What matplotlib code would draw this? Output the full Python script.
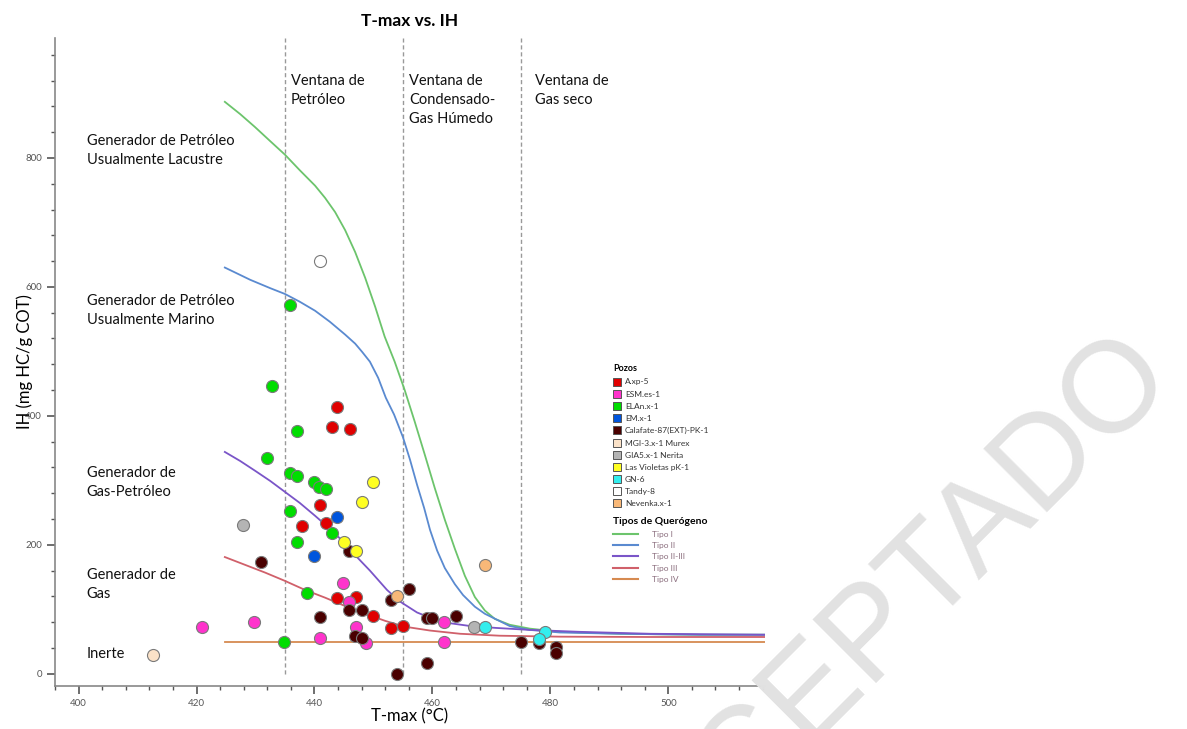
import matplotlib
matplotlib.use('Agg')
import matplotlib.pyplot as plt
from matplotlib.lines import Line2D
from matplotlib.ticker import MultipleLocator

plt.rcParams['font.family'] = ['Lato', 'DejaVu Sans']

# --- Pozos : Tmax (°C) et IH (mg HC/g COT) ---
axp5_t = [443.9, 442.9, 446.0, 440.9, 437.9, 442.0, 443.9, 447.0, 450.0, 453.0, 455.0]
axp5_ih = [413, 383, 380, 261, 229, 234, 118, 119, 90, 71, 74]

esm_t = [444.9, 445.9, 429.8, 447.0, 462.0, 440.9, 448.8, 462.0, 420.9]
esm_ih = [140, 111, 80, 72, 80, 55, 47, 50, 72]

elan_t = [432.8, 437.0, 431.9, 435.8, 437.0, 440.0, 440.8, 442.0, 435.8, 442.9, 437.0, 438.8, 434.9, 435.8]
elan_ih = [446, 376, 335, 311, 307, 297, 289, 287, 253, 218, 205, 125, 50, 572]

em_t = [443.9, 440.0]
em_ih = [243, 183]

calafate_t = [430.9, 445.9, 456.0, 453.0, 448.0, 445.9, 440.9, 459.0, 460.0, 464.0,
              446.9, 448.0, 459.0, 454.0, 475.0, 478.0, 481.0, 481.0]
calafate_ih = [173, 191, 131, 115, 99, 99, 88, 86, 87, 90,
               58, 55, 17, 0, 49, 47, 41, 32]

mgi_t = [412.7]
mgi_ih = [29]

gias_t = [427.8, 467.0]
gias_ih = [231, 73]

violetas_t = [450.0, 448.0, 445.0, 447.0]
violetas_ih = [297, 267, 205, 191]

gn6_t = [469.0, 479.1, 478.0]
gn6_ih = [72, 64, 54]

tandy_t = [440.9]
tandy_ih = [640]

nevenka_t = [454.0, 469.0]
nevenka_ih = [120, 168]

# --- Courbes des types de kérogène ---
tipo1_t = [424.8, 427.4, 429.9, 432.5, 435.0, 437.5, 440.1, 441.8, 443.5, 445.2, 446.9,
           448.6, 450.3, 451.9, 453.6, 455.3, 457.0, 458.7, 460.4, 462.1, 463.8, 465.5,
           467.2, 468.9, 470.6, 473.1, 476.5, 481.6, 491.8, 505.3, 516.4]
tipo1_ih = [887, 868, 848, 826, 805, 781, 757, 738, 716, 688, 654,
            614, 569, 523, 484, 440, 391, 340, 288, 239, 194, 152,
            119, 98, 85, 76, 70, 65, 62, 60.5, 60.5]

tipo2_t = [424.8, 429.1, 432.5, 435.0, 437.5, 440.1, 442.6, 445.2, 446.9, 448.1, 449.4,
           450.8, 452.1, 453.5, 455.0, 456.2, 457.4, 458.6, 459.6, 460.8, 462.1, 463.8,
           465.2, 467.2, 468.9, 470.9, 473.1, 476.5, 481.6, 491.8, 505.3, 516.4]
tipo2_ih = [630, 611, 598, 589, 577, 563, 546, 526, 512, 499, 484,
            459, 428, 402, 367, 332, 293, 257, 223, 191, 164, 139,
            122, 104, 93, 84, 74, 68, 64, 62, 60.5, 60.5]

tipo23_t = [424.8, 427.4, 429.9, 432.5, 435.0, 437.5, 440.1, 442.6, 445.2, 447.2, 449.4,
            452.3, 454.5, 457.4, 459.6, 462.5, 466.4, 470.9, 476.5, 485.0, 496.9, 516.4]
tipo23_ih = [344, 330, 315, 299, 282, 265, 245, 225, 202, 181, 160,
             130, 112, 95, 87, 79, 74, 71, 68, 65, 62, 60.5]

tipo3_t = [424.8, 428.2, 431.6, 435.0, 438.4, 441.8, 445.2, 448.6, 452.0, 455.3,
           459.6, 464.7, 471.4, 481.6, 496.9, 516.4]
tipo3_ih = [181, 169, 157, 144, 130, 118, 105, 93, 82, 73,
            67, 62, 59, 57.5, 57, 57]

tipo4_t = [424.8, 516.4]
tipo4_ih = [49, 49]

ventanas = [435, 455, 475]

pozos = [
    ("A.xp-5", axp5_t, axp5_ih, '#e00000'),
    ("ESM.es-1", esm_t, esm_ih, '#ff33cc'),
    ("ELAn.x-1", elan_t, elan_ih, '#00dd00'),
    ("EM.x-1", em_t, em_ih, '#0055dd'),
    ("Calafate-87(EXT)-PK-1", calafate_t, calafate_ih, '#4a0000'),
    ("MGI-3.x-1 Murex", mgi_t, mgi_ih, '#fbe2c8'),
    ("GIA5.x-1 Nerita", gias_t, gias_ih, '#b4b4b4'),
    ("Las Violetas pK-1", violetas_t, violetas_ih, '#ffff22'),
    ("GN-6", gn6_t, gn6_ih, '#33eeee'),
    ("Tandy-8", tandy_t, tandy_ih, '#ffffff'),
    ("Nevenka.x-1", nevenka_t, nevenka_ih, '#f8b878'),
]

tipos = [
    ("Tipo I", tipo1_t, tipo1_ih, '#6cc46c'),
    ("Tipo II", tipo2_t, tipo2_ih, '#5a8ad0'),
    ("Tipo II-III", tipo23_t, tipo23_ih, '#7a55c8'),
    ("Tipo III", tipo3_t, tipo3_ih, '#d0606a'),
    ("Tipo IV", tipo4_t, tipo4_ih, '#d68a50'),
]

fig = plt.figure(figsize=(11.87, 7.29), dpi=100)
ax = fig.add_axes([55 / 1187, 1 - 686 / 729, 710 / 1187, 648 / 729])
ax.set_xlim(396, 516.4)
ax.set_ylim(-19, 986)

# Fenêtres de maturité
ax.vlines(ventanas, 0, 986, colors='#999999', linestyles=(0, (3, 2)), linewidth=1, zorder=1)

# Courbes
for nom, t, ih, c in tipos:
    ax.plot(t, ih, color=c, linewidth=1.3, zorder=2)

# Points
for nom, t, ih, c in pozos:
    ax.scatter(t, ih, s=75, c=c, edgecolors='#7a7a7a', linewidths=0.8, zorder=3)

# Axes
for s in ['top', 'right']:
    ax.spines[s].set_visible(False)
for s in ['left', 'bottom']:
    ax.spines[s].set_color('#888888')
    ax.spines[s].set_linewidth(1.2)
ax.xaxis.set_major_locator(MultipleLocator(20))
ax.xaxis.set_minor_locator(MultipleLocator(4))
ax.yaxis.set_major_locator(MultipleLocator(200))
ax.yaxis.set_minor_locator(MultipleLocator(40))
ax.tick_params(which='major', length=6, width=1.2, color='#555555', labelsize=7, labelcolor='#555555')
ax.tick_params(which='minor', length=3, width=1, color='#555555')

ax.set_xlabel("T-max (°C)", fontsize=12, labelpad=0)
ax.set_ylabel("IH (mg HC/g COT)", fontsize=12, labelpad=-6)
ax.set_title("T-max vs. IH", fontsize=12.5, fontweight='bold', pad=9)

# Textes
txt = dict(fontsize=10.5, linespacing=1.45, va='center', ha='left', color='#111111')
ax.text(436.0, 930, "Ventana de\nPetróleo", **dict(txt, va='top'))
ax.text(456.0, 930, "Ventana de\nCondensado-\nGas Húmedo", **dict(txt, va='top'))
ax.text(477.4, 930, "Ventana de\nGas seco", **dict(txt, va='top'))
ax.text(401.4, 812, "Generador de Petróleo\nUsualmente Lacustre", **txt)
ax.text(401.4, 563, "Generador de Petróleo\nUsualmente Marino", **txt)
ax.text(401.4, 296, "Generador de\nGas-Petróleo", **txt)
ax.text(401.4, 139, "Generador de\nGas", **txt)
ax.text(401.4, 31, "Inerte", **txt)

# Légendes
h1 = [Line2D([], [], marker='s', linestyle='none', markersize=6, markerfacecolor=c,
             markeredgecolor='#555555', markeredgewidth=0.7) for _, _, _, c in pozos]
leg1 = ax.legend(h1, [p[0] for p in pozos], title="Pozos", loc='upper left',
                 bbox_to_anchor=(610 / 1187, 1 - 361 / 729), bbox_transform=fig.transFigure,
                 frameon=False, fontsize=6, labelspacing=0.62, handlelength=0.8,
                 handletextpad=0.6, borderaxespad=0, alignment='left',
                 title_fontproperties={'weight': 'bold', 'size': 6.5})
for t in leg1.get_texts():
    t.set_color('#333333')
ax.add_artist(leg1)

h2 = [Line2D([], [], color=c, linewidth=1.5) for _, _, _, c in tipos]
leg2 = ax.legend(h2, [p[0] for p in tipos], title="Tipos de Querógeno", loc='upper left',
                 bbox_to_anchor=(610 / 1187, 1 - 514 / 729), bbox_transform=fig.transFigure,
                 frameon=False, fontsize=6, labelspacing=0.52, handlelength=3.0,
                 handletextpad=1.7, borderaxespad=0, alignment='left',
                 title_fontproperties={'weight': 'bold', 'size': 7.5})
for t in leg2.get_texts():
    t.set_color('#8a6d7d')

# Filigrane
fig.text(906 / 1187, 1 - 606 / 729, "ACEPTADO", rotation=45, rotation_mode='anchor',
         ha='center', va='center', fontsize=93, color='#e2e2e2',
         family=['Liberation Sans', 'DejaVu Sans'], zorder=0)

fig.savefig("out.png", dpi=100)
